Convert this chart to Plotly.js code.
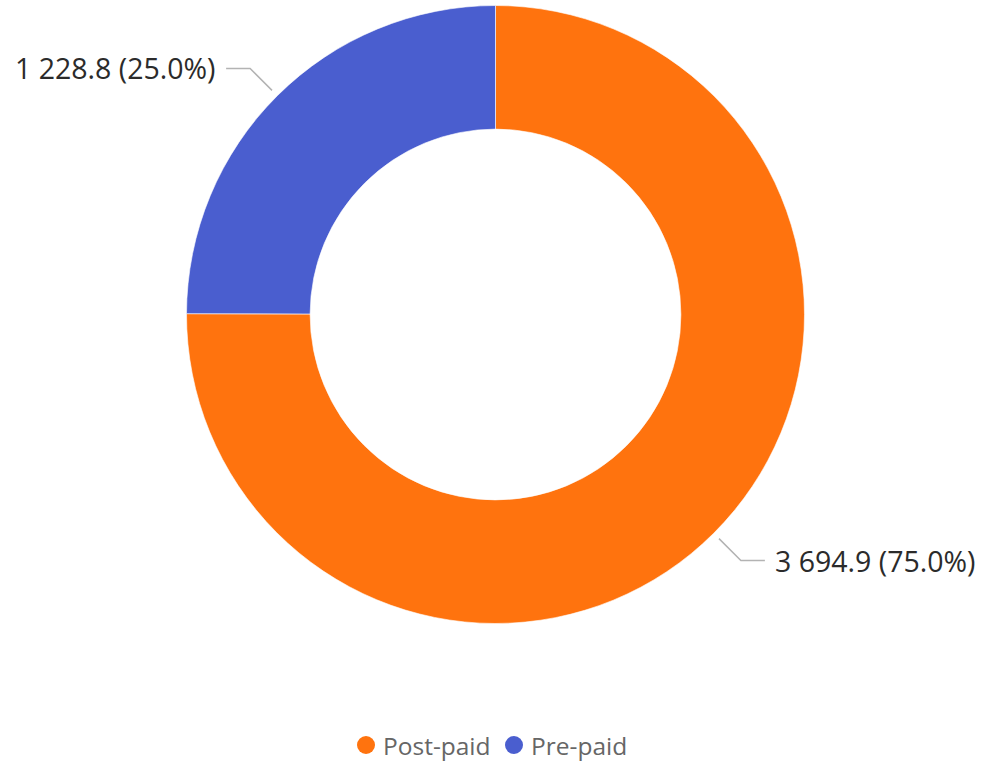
<!DOCTYPE html>
<html>
<head>
<meta charset="utf-8">
<script src="https://cdn.plot.ly/plotly-3.0.1.min.js"></script>
<style>html,body{margin:0;padding:0;background:#fff;}#chart{width:984px;height:763px;}</style>
</head>
<body>
<div id="chart"></div>
<script>
const labels = ["Post-paid", "Pre-paid"];
const values = [3694.9, 1228.8];
const colors = ["#FF730E", "#4A5ECF"];

const W = 984, H = 763;
const CX = 495.5, CY = 314.5, R = 308.5, RDOM = 309;
const LEG_Y = 745;
const LEG_X = [366, 514];

function px2x(p){ return p / W; }
function py2y(p){ return 1 - p / H; }
function fmt(v){
  const s = v.toFixed(1).split(".");
  return s[0].replace(/\B(?=(\d{3})+(?!\d))/g, " ") + "." + s[1];
}

const total = values.reduce((a,b)=>a+b,0);
const shapes = [], annotations = [];
let cum = 0;
values.forEach((v,i)=>{
  const th = 2*Math.PI*(cum + v/2)/total;
  cum += v;
  const dx = Math.sin(th), dy = -Math.cos(th);
  const r1 = R + 8, r2 = R + 39;
  const x1 = CX + dx*r1, y1 = CY + dy*r1;
  const x2 = CX + dx*r2, y2 = CY + dy*r2;
  const side = dx >= 0 ? 1 : -1;
  const x3 = x2 + side*24;
  shapes.push({type:"path", xref:"paper", yref:"paper",
    path:"M"+px2x(x1)+","+py2y(y1)+" L"+px2x(x2)+","+py2y(y2)+" L"+px2x(x3)+","+py2y(y2),
    line:{color:"#b3b3b3", width:1.5}});
  annotations.push({xref:"paper", yref:"paper", x:px2x(x3 + side*8), y:py2y(y2),
    xanchor: side>0 ? "left" : "right", yanchor:"middle", showarrow:false,
    text: fmt(v) + " (" + (v/total*100).toFixed(1) + "%)",
    font:{family:"Open Sans, sans-serif", size:28.5, color:"#2b2b2b"}});
});

// legend: circle marker + label
labels.forEach((l,i)=>{
  const cx = LEG_X[i], rr = 9;
  shapes.push({type:"circle", xref:"paper", yref:"paper",
    x0:px2x(cx-rr), x1:px2x(cx+rr), y0:py2y(LEG_Y+rr), y1:py2y(LEG_Y-rr),
    fillcolor:colors[i], line:{width:0}});
  annotations.push({xref:"paper", yref:"paper", x:px2x(cx+rr+6), y:py2y(LEG_Y),
    xanchor:"left", yanchor:"middle", showarrow:false, text:l,
    font:{family:"Open Sans, sans-serif", size:24.5, color:"#666"}});
});

const traces = [{
  type:"pie", labels:labels, values:values, hole:0.6, sort:false,
  direction:"clockwise", rotation:0, textinfo:"none", hoverinfo:"label+value+percent",
  marker:{colors:colors, line:{color:"rgba(255,255,255,0.6)", width:1}},
  domain:{x:[(CX-RDOM)/W, (CX+RDOM)/W], y:[1-(CY+RDOM)/H, 1-(CY-RDOM)/H]},
  showlegend:false
}];

const layout = {
  width:W, height:H, margin:{l:0,r:0,t:0,b:0},
  paper_bgcolor:"#fff", plot_bgcolor:"#fff",
  showlegend:false,
  shapes:shapes, annotations:annotations
};
Plotly.newPlot("chart", traces, layout, {displayModeBar:false, staticPlot:true});
</script>
</body>
</html>
